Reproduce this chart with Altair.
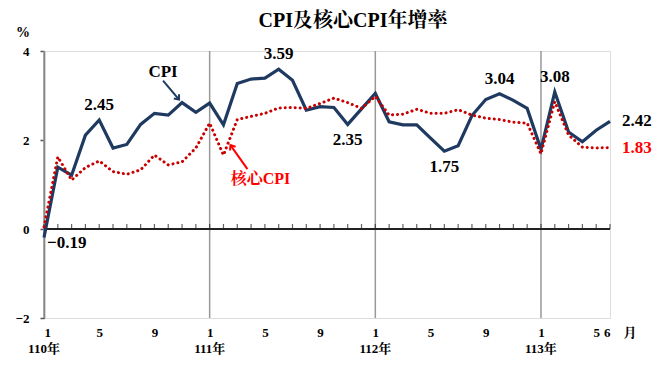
import altair as alt
import pandas as pd

# month index 0 = 110年1月 ... 41 = 113年6月
months = list(range(42))
cpi = [-0.19, 1.39, 1.21, 2.11, 2.45, 1.82, 1.90, 2.35, 2.60, 2.56, 2.84, 2.62,
       2.83, 2.34, 3.27, 3.37, 3.39, 3.59, 3.34, 2.67, 2.75, 2.73, 2.35, 2.70,
       3.05, 2.41, 2.34, 2.34, 2.04, 1.75, 1.87, 2.55, 2.91, 3.04, 2.89, 2.71,
       1.79, 3.08, 2.18, 1.96, 2.22, 2.42]
core = [0.05, 1.62, 1.10, 1.38, 1.53, 1.29, 1.23, 1.33, 1.66, 1.44, 1.51, 1.82,
        2.38, 1.66, 2.46, 2.53, 2.60, 2.72, 2.73, 2.71, 2.82, 2.94, 2.84, 2.71,
        2.98, 2.56, 2.58, 2.69, 2.60, 2.60, 2.68, 2.56, 2.49, 2.46, 2.40, 2.38,
        1.69, 2.86, 2.11, 1.84, 1.82, 1.83]
tick_values = [0, 4, 8, 12, 16, 20, 24, 28, 32, 36, 40, 41]
year_starts = [0, 12, 24, 36]
year_labels = ["110年", "111年", "112年", "113年"]
y_ticks = [-2, 0, 2, 4]
labels_above = [4, 17, 33, 37]
labels_below = [22, 29]

FONT = "Liberation Serif, Times New Roman, Noto Serif CJK TC, Noto Sans CJK TC"
NAVY = "#1f3a60"
DOTRED = "#c80000"
RED = "#ff0000"

df = pd.DataFrame({"i": months, "cpi": cpi, "core": core})
years = pd.DataFrame({"g": year_starts, "label": year_labels})

xscale = alt.Scale(domain=[0, 41], nice=False, zero=False)
yscale = alt.Scale(domain=[-2, 4], nice=False, zero=False)
xaxis = alt.Axis(values=tick_values, domain=False, ticks=False, grid=False,
                 labelExpr="toString(datum.value % 12 + 1)",
                 labelFont=FONT, labelFontSize=13, labelFontWeight="bold",
                 labelColor="black", labelPadding=8, title=None)
yaxis = alt.Axis(values=y_ticks, grid=False, domainColor="#555", domainWidth=1.5,
                 tickColor="#555", tickSize=4, tickWidth=1.5, labelPadding=11,
                 labelFont=FONT, labelFontSize=13, labelFontWeight="bold",
                 labelColor="black", title=None)


def X(field="i"):
    return alt.X(f"{field}:Q", scale=xscale, axis=xaxis)


def Y(field):
    return alt.Y(f"{field}:Q", scale=yscale, axis=yaxis)


base = alt.Chart(df)

grid = alt.Chart(years).mark_rule(color="#999", strokeWidth=1.5).encode(x=X("g"))
zero = base.mark_rule(color="#222", strokeWidth=1.5).encode(y=alt.datum(0))
ticks = base.mark_tick(orient="vertical", size=5, thickness=1.2, color="#222",
                       yOffset=-2.5).encode(x=X("i"), y=alt.datum(0))

line_cpi = base.mark_line(color=NAVY, strokeWidth=3.2, strokeJoin="miter").encode(
    x=X("i"), y=Y("cpi"))
line_core = base.mark_line(color=DOTRED, strokeWidth=3, strokeDash=[0.1, 4.9],
                           strokeCap="round").encode(x=X("i"), y=Y("core"))

txt = dict(font=FONT, fontSize=17, fontWeight="bold", color="black")
lab_above = base.transform_filter(
    alt.FieldOneOfPredicate(field="i", oneOf=labels_above)).mark_text(
    dy=-15, **txt).encode(x=X("i"), y=Y("cpi"), text=alt.Text("cpi:Q", format=".2f"))
lab_below = base.transform_filter(
    alt.FieldOneOfPredicate(field="i", oneOf=labels_below)).mark_text(
    dy=16, **txt).encode(x=X("i"), y=Y("cpi"), text=alt.Text("cpi:Q", format=".2f"))
lab_first = base.transform_filter(alt.datum.i == 0).mark_text(
    dx=3, dy=6, align="left", **txt).encode(
    x=X("i"), y=Y("cpi"), text=alt.Text("cpi:Q", format=".2f"))
lab_last = base.transform_filter(alt.datum.i == 41).mark_text(
    dx=12, align="left", **txt).encode(
    x=X("i"), y=Y("cpi"), text=alt.Text("cpi:Q", format=".2f"))
lab_last_core = base.transform_filter(alt.datum.i == 41).mark_text(
    dx=12, align="left", font=FONT, fontSize=17, fontWeight="bold", color=RED).encode(
    x=X("i"), y=Y("core"), text=alt.Text("core:Q", format=".2f"))

# CPI arrow, anchored on 110年11月
cpi_pt = base.transform_filter(alt.datum.i == 10)
cpi_shaft = cpi_pt.mark_rule(color=NAVY, strokeWidth=2, xOffset=-3, yOffset=-3,
                             x2Offset=-19, y2Offset=-22).encode(
    x=X("i"), y=Y("cpi"), x2="i:Q", y2="cpi:Q")
cpi_head = cpi_pt.mark_point(shape="M -1 -0.8 L 0 0 L -1 0.8", angle=51, size=70,
                             filled=False, strokeWidth=2, color=NAVY, opacity=1,
                             xOffset=-3, yOffset=-3).encode(x=X("i"), y=Y("cpi"))
cpi_text = cpi_pt.mark_text(text="CPI", dx=-19, dy=-31, **txt).encode(
    x=X("i"), y=Y("cpi"))

# core CPI arrow, anchored on 111年2月
core_pt = base.transform_filter(alt.datum.i == 13)
core_shaft = core_pt.mark_rule(color=RED, strokeWidth=2, xOffset=7, yOffset=-10,
                               x2Offset=24, y2Offset=14).encode(
    x=X("i"), y=Y("core"), x2="i:Q", y2="core:Q")
core_head = core_pt.mark_point(shape="M -1 -0.8 L 0 0 L -1 0.8", angle=236, size=70,
                               filled=False, strokeWidth=2, color=RED, opacity=1,
                               xOffset=7, yOffset=-10).encode(x=X("i"), y=Y("core"))
core_text = core_pt.mark_text(text="核心CPI", dx=37, dy=24, font=FONT, fontSize=16,
                              fontWeight="bold", color=RED).encode(
    x=X("i"), y=Y("core"))

# "%" unit above the y axis, "月" unit after the last month label
pct_text = base.transform_filter(alt.datum.i == 0).mark_text(
    text="%", font=FONT, fontSize=14, fontWeight="bold", color="black",
    dx=-21, dy=-18, baseline="middle").encode(x=X("i"), y=alt.datum(4))
year_text = alt.Chart(years).mark_text(font=FONT, fontSize=13, fontWeight="bold",
                                       color="black", dy=31, baseline="middle").encode(
    x=X("g"), y=alt.datum(-2), text="label:N")
month_unit = base.transform_filter(alt.datum.i == 41).mark_text(
    text="月", font=FONT, fontSize=13, fontWeight="bold", color="black",
    dx=20, dy=15, baseline="middle").encode(x=X("i"), y=alt.datum(-2))

chart = alt.layer(
    grid, zero, ticks, line_cpi, line_core,
    lab_above, lab_below, lab_first, lab_last, lab_last_core,
    cpi_shaft, cpi_head, cpi_text, core_shaft, core_head, core_text,
    pct_text, year_text, month_unit,
).properties(
    width=566, height=267,
    title=alt.TitleParams(text="CPI及核心CPI年增率", font=FONT, fontSize=20,
                          fontWeight="bold", color="black", anchor="middle",
                          dx=26, dy=19, offset=14),
    autosize=alt.AutoSizeParams(type="none"),
    padding={"left": 36, "top": 43, "right": 50, "bottom": 49},
).configure_view(stroke=None).configure(background="white")

chart.save("out.html", embed_options={"renderer": "svg", "actions": False})
